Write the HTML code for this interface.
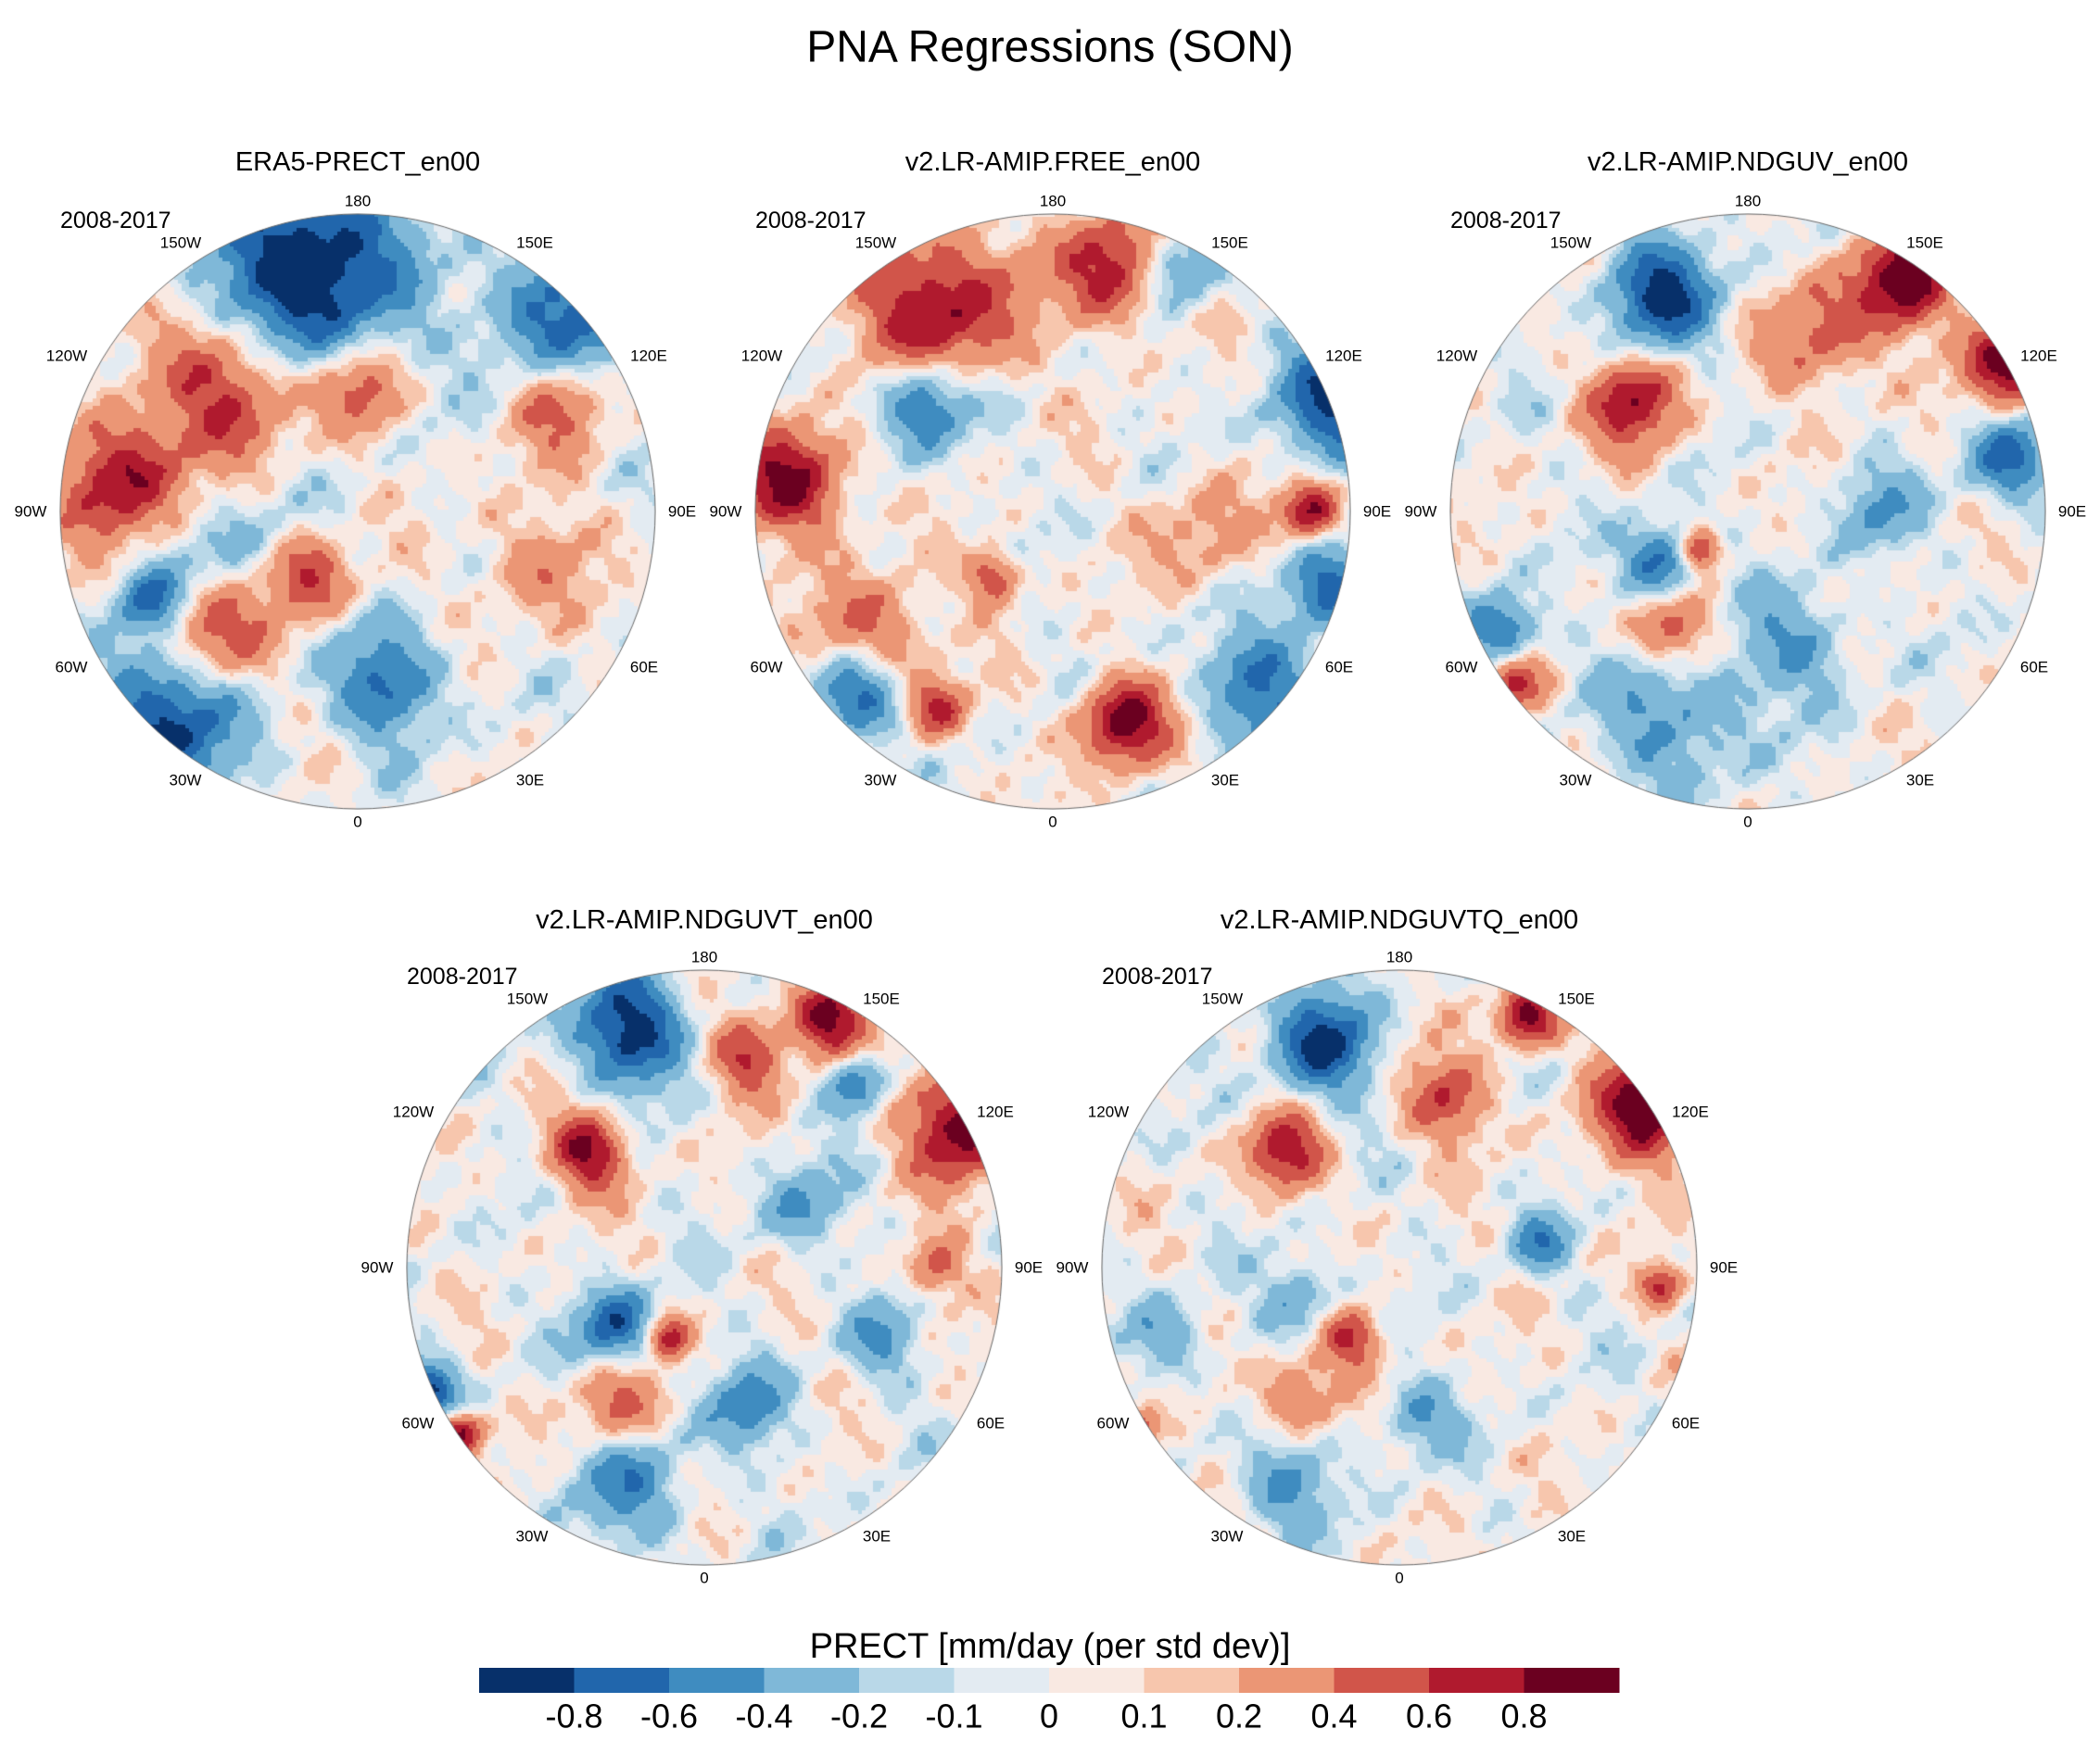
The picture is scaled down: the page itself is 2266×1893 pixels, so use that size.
<!DOCTYPE html>
<html><head><meta charset="utf-8">
<style>
html,body{margin:0;padding:0;background:#fff;}
#wrap{position:relative;width:2266px;height:1893px;overflow:hidden;font-family:"Liberation Sans",sans-serif;}
canvas{position:absolute;}
svg{position:absolute;left:0;top:0;}
</style></head>
<body>
<div id="wrap">
<svg id="ov" width="2266" height="1893"></svg>
</div>
<script>
// colour levels
const levels = [-0.8,-0.6,-0.4,-0.2,-0.1,0,0.1,0.2,0.4,0.6,0.8];
const colors = ['#07306a','#2166ac','#3f8cc0','#7fb8d8','#b9d8e8','#e3ebf2','#f9e9e2','#f7c6ad','#eb9675','#d1554a','#b01a2e','#6b0020'];
const levelLabels = ['-0.8','-0.6','-0.4','-0.2','-0.1','0','0.1','0.2','0.4','0.6','0.8'];
// panels
const panelTitles = ['ERA5-PRECT_en00','v2.LR-AMIP.FREE_en00','v2.LR-AMIP.NDGUV_en00','v2.LR-AMIP.NDGUVT_en00','v2.LR-AMIP.NDGUVTQ_en00'];
const panelCenters = [[386,552],[1136,552],[1886,552],[760,1368],[1510,1368]];
const R = 321;
// blobs: [x, y, radius, value] in normalized disc coords
const blobs1 = [[-0.17,-0.82,0.22,-1.1],[0.69,-0.64,0.18,-0.7],[-0.44,-0.41,0.17,0.7],[0.01,-0.41,0.1,0.55],[0.69,-0.37,0.13,0.55],[-0.8,-0.1,0.14,0.85],[-0.48,0.4,0.13,0.75],[-0.17,0.22,0.1,0.65],[-0.66,0.71,0.18,-0.85],[0.1,0.58,0.13,-0.65],[0.6,0.17,0.14,0.3],[-0.44,0.17,0.18,-0.3],[-0.7,0.3,0.08,-0.6]];
const blobs2 = [[-0.39,-0.68,0.18,0.85],[0.2,-0.82,0.13,0.75],[-0.43,-0.37,0.11,-0.75],[0.96,-0.37,0.14,-0.85],[-0.88,-0.1,0.13,0.85],[0.87,0,0.07,0.85],[0.92,0.26,0.1,-0.75],[0.7,0.58,0.13,-0.65],[0.24,0.71,0.1,0.95],[-0.66,0.62,0.1,-0.75],[-0.39,0.66,0.07,0.65],[-0.61,0.4,0.13,0.5],[-0.2,0.22,0.06,0.65],[0.51,0.08,0.13,0.3],[0.42,-0.82,0.09,-0.55]];
const blobs3 = [[-0.29,-0.73,0.13,-0.85],[0.52,-0.77,0.11,0.95],[0.88,-0.5,0.1,0.95],[-0.38,-0.37,0.11,0.75],[0.88,-0.18,0.1,-0.65],[-0.29,0.17,0.09,-0.75],[-0.16,0.13,0.05,0.75],[-0.25,0.4,0.1,0.65],[-0.25,0.67,0.18,-0.45],[-0.83,0.4,0.08,-0.75],[-0.79,0.58,0.07,0.65],[0.16,0.44,0.13,-0.4],[0.25,-0.6,0.13,0.5],[0.43,0,0.1,-0.4]];
const blobs4 = [[-0.25,-0.8,0.13,-0.95],[0.42,-0.84,0.09,0.95],[0.87,-0.48,0.13,0.95],[0.51,-0.62,0.07,-0.65],[0.15,-0.71,0.09,0.65],[-0.39,-0.39,0.09,0.85],[-0.3,0.2,0.09,-0.75],[-0.12,0.24,0.05,0.75],[-0.3,0.47,0.1,0.5],[-0.93,0.42,0.07,-0.85],[-0.82,0.55,0.05,0.85],[-0.25,0.73,0.13,-0.5],[0.15,0.47,0.1,-0.5],[0.33,-0.21,0.1,-0.4],[0.78,0,0.07,0.5],[0.6,0.24,0.09,-0.4]];
const blobs5 = [[-0.25,-0.75,0.12,-0.85],[0.43,-0.84,0.07,0.95],[0.83,-0.53,0.12,0.95],[0.16,-0.57,0.1,0.6],[-0.38,-0.39,0.09,0.75],[0.47,-0.08,0.07,-0.5],[-0.16,0.24,0.07,0.65],[-0.34,0.42,0.09,0.5],[-0.34,0.1,0.09,-0.4],[-0.38,0.73,0.11,-0.45],[0.07,0.5,0.09,-0.4],[0.88,0.06,0.05,0.65],[-0.88,0.55,0.05,0.65],[-0.79,0.24,0.09,-0.4]];
const panelBlobs = [blobs1,blobs2,blobs3,blobs4,blobs5];
const lonLabels = ['180','150E','120E','90E','60E','30E','0','30W','60W','90W','120W','150W'];
const lonOffsets = [[0,-335],[191,-290],[314,-168],[350,0],[309,168],[186,290],[0,335],[-186,290],[-309,168],[-353,0],[-314,-168],[-191,-290]];

function colorFor(v){let i=0;while(i<levels.length&&v>=levels[i])i++;return colors[i];}
function texture(x,y,k){
  return 0.10*Math.sin(9.1*x+3.7*y+k)*Math.cos(7.3*y-2.1*x+1.3*k)
        +0.065*Math.sin(17.3*x-11.2*y+2.1*k)
        +0.05*Math.cos(23.1*y+13.7*x+0.7*k)
        +0.04*Math.sin(31*x+29*y+k*3)
        +0.03*Math.sin(47*x-41*y+k*5);
}
const wrap=document.getElementById('wrap');
const ov=document.getElementById('ov');
const NS='http://www.w3.org/2000/svg';
function txt(x,y,s,size,name,anchor){
  const t=document.createElementNS(NS,'text');
  t.setAttribute('x',x);t.setAttribute('y',y);
  t.setAttribute('font-size',size);t.setAttribute('text-anchor',anchor||'middle');
  t.setAttribute('dominant-baseline','central');
  t.setAttribute('font-family','Liberation Sans, sans-serif');
  t.textContent=s;
  
  
  ov.appendChild(t);return t;
}
txt(1133,51,'PNA Regressions (SON)',48,'main-title');
panelCenters.forEach((c,p)=>{
  const cv=document.createElement('canvas');
  cv.width=2*R+2;cv.height=2*R+2;
  cv.style.left=(c[0]-R-1)+'px';cv.style.top=(c[1]-R-1)+'px';
  
  
  wrap.insertBefore(cv,ov);
  const ctx=cv.getContext('2d');
  ctx.save();ctx.beginPath();ctx.arc(R+1,R+1,R,0,2*Math.PI);ctx.clip();
  const step=4;
  for(let py=0;py<2*R+2;py+=step){for(let px=0;px<2*R+2;px+=step){
    const x=(px+step/2-R-1)/R,y=(py+step/2-R-1)/R;
    let v=texture(x,y,p*1.7);
    for(const b of panelBlobs[p]){const dx=x-b[0],dy=y-b[1];v+=b[3]*Math.exp(-(dx*dx+dy*dy)/(2*b[2]*b[2]));}
    ctx.fillStyle=colorFor(v);ctx.fillRect(px,py,step,step);
  }}
  ctx.restore();
  ctx.beginPath();ctx.arc(R+1,R+1,R,0,2*Math.PI);ctx.strokeStyle='#666';ctx.lineWidth=1;ctx.stroke();
  const ty = p<3?175:993;
  txt(c[0],ty,panelTitles[p],29,'panel-title-'+(p+1));
  txt(c[0]-321,c[1]-314,'2008-2017',25,'period-label-'+(p+1),'start');
  lonLabels.forEach((l,i)=>{
    txt(c[0]+lonOffsets[i][0],c[1]+lonOffsets[i][1],l,17,'lon-label-'+l.toLowerCase()+'-'+(p+1));
  });
});
// colorbar
const cbX=517,cbW=1230,cbY=1800,cbH=27,bw=cbW/colors.length;
colors.forEach((col,i)=>{
  const r=document.createElementNS(NS,'rect');
  r.setAttribute('x',cbX+i*bw);r.setAttribute('y',cbY);r.setAttribute('width',bw+0.5);r.setAttribute('height',cbH);
  r.setAttribute('fill',col);
  
  
  ov.appendChild(r);
});
levelLabels.forEach((l,i)=>{txt(cbX+(i+1)*bw,1852,l,36,'colorbar-tick-label');});
txt(1133,1777,'PRECT [mm/day (per std dev)]',38,'colorbar-title');
</script>
</body></html>
